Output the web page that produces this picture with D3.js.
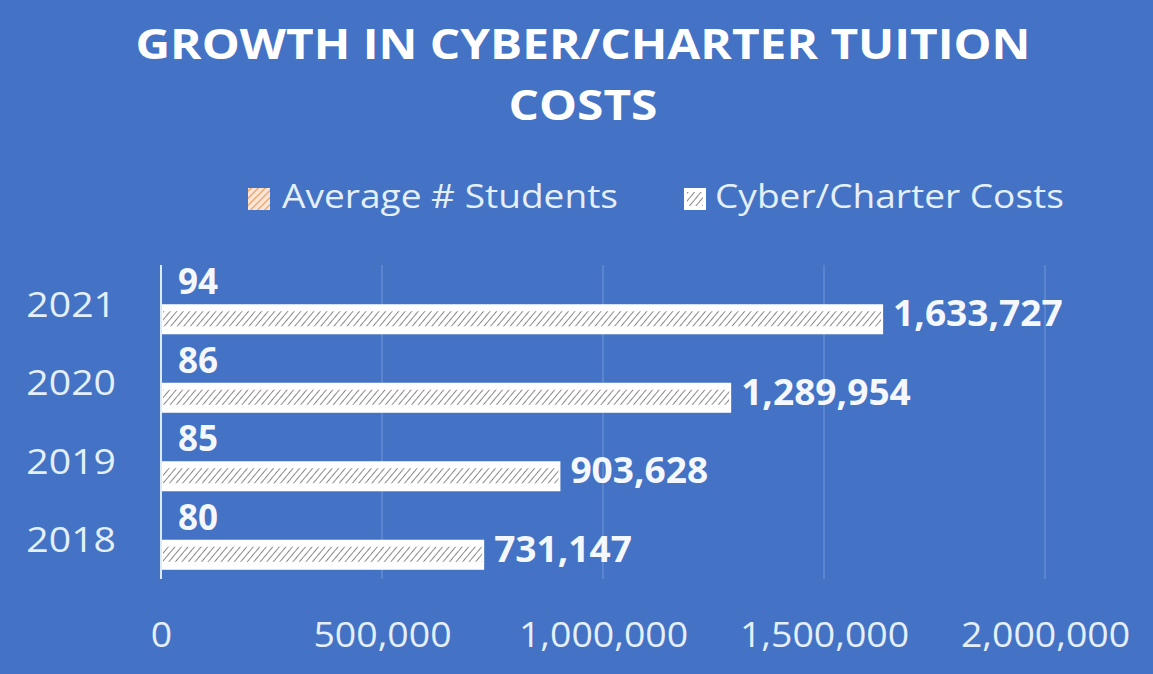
<!DOCTYPE html>
<html><head><meta charset="utf-8">
<script src="https://cdn.jsdelivr.net/npm/d3@7"></script>
<style>
html,body{margin:0;padding:0;background:#4472C4;}
svg{display:block;}
</style></head>
<body><svg id="c" width="1153" height="674"></svg>
<script>
const years = ["2021","2020","2019","2018"];
const students = [94, 86, 85, 80];
const costs = [1633727, 1289954, 903628, 731147];
const xTicks = [0, 500000, 1000000, 1500000, 2000000];
const seriesNames = ["Average # Students", "Cyber/Charter Costs"];
const titleLines = ["GROWTH IN CYBER/CHARTER TUITION", "COSTS"];

const FONT = "'Open Sans',Lato,sans-serif";
const svg = d3.select("#c");
const defs = svg.append("defs");
const pat = defs.append("pattern").attr("id","hatch").attr("patternUnits","userSpaceOnUse")
  .attr("width",5).attr("height",5).attr("patternTransform","rotate(40)");
pat.append("rect").attr("width",5).attr("height",5).attr("fill","#ffffff");
pat.append("line").attr("x1",0).attr("y1",0).attr("x2",0).attr("y2",5).attr("stroke","#6b6b6b").attr("stroke-width",1.6);
const pat2 = defs.append("pattern").attr("id","hatchO").attr("patternUnits","userSpaceOnUse")
  .attr("width",5).attr("height",5).attr("patternTransform","rotate(45)");
pat2.append("rect").attr("width",5).attr("height",5).attr("fill","#fbe5d6");
pat2.append("line").attr("x1",0).attr("y1",0).attr("x2",0).attr("y2",5).attr("stroke","#e39a5e").attr("stroke-width",2.4);

const x = d3.scaleLinear().domain([0,2000000]).range([161, 1045]);
const y = d3.scaleBand().domain(years).range([265, 579]).paddingInner(0.235).paddingOuter(0.1175);
const sub = d3.scaleBand().domain(seriesNames).range([0, y.bandwidth()]);

// horizontal stretch helper (reference text is wider than available fonts)
function stretch(sel, k) {
  sel.each(function(){
    const w = this.getComputedTextLength();
    d3.select(this).attr("textLength", w*k).attr("lengthAdjust","spacingAndGlyphs");
  });
}

// title
const tt = svg.append("g").selectAll("text").data(titleLines).join("text")
  .attr("x", 583).attr("y",(d,i)=>59+i*61).attr("text-anchor","middle")
  .attr("fill","#ffffff").attr("font-weight","bold").attr("font-size",42).attr("font-family",FONT)
  .text(d=>d);
const tw = tt.nodes()[0].getComputedTextLength();
stretch(tt, 895/tw);

// legend
const lg = svg.append("g");
lg.append("rect").attr("x",248).attr("y",188).attr("width",22).attr("height",22).attr("fill","url(#hatchO)");
const l1 = lg.append("text").attr("x",282).attr("y",208).attr("fill","#e3eff9").attr("font-size",32).attr("font-family",FONT).text(seriesNames[0]);
lg.append("rect").attr("x",684).attr("y",188).attr("width",22).attr("height",22).attr("fill","#ffffff");
lg.append("rect").attr("x",687).attr("y",192).attr("width",16).attr("height",14).attr("fill","url(#hatch)");
const l2 = lg.append("text").attr("x",715).attr("y",208).attr("fill","#e3eff9").attr("font-size",32).attr("font-family",FONT).text(seriesNames[1]);
const lw = l1.node().getComputedTextLength();
stretch(l1, 336/lw); stretch(l2, 336/lw);

// gridlines
svg.append("g").selectAll("line").data(xTicks.slice(1)).join("line")
  .attr("x1",d=>x(d)).attr("x2",d=>x(d)).attr("y1",265).attr("y2",579)
  .attr("stroke","#6d93d8").attr("stroke-width",1.2);

// x axis labels
const xa = svg.append("g").attr("transform","translate(0,647)")
  .call(d3.axisBottom(x).tickValues(xTicks).tickFormat(d3.format(",")).tickSize(0).tickPadding(0));
xa.select(".domain").remove();
xa.selectAll("text").attr("fill","#e3eff9").attr("font-size",35).attr("font-family",FONT).attr("dy","0").attr("y",0);
stretch(xa.selectAll("text"), 1.07);

// y axis labels
const ya = svg.append("g").attr("transform","translate(116,0)")
  .call(d3.axisLeft(y).tickSize(0).tickPadding(0));
ya.select(".domain").remove();
ya.selectAll("text").attr("fill","#e3eff9").attr("font-size",35).attr("font-family",FONT).attr("dy","0.36em");
stretch(ya.selectAll("text"), 1.12);

// bars: costs
const g = svg.append("g");
const cy = d => y(d) + sub(seriesNames[1]);
g.selectAll("rect.cost").data(years).join("rect").attr("class","cost")
  .attr("x",x(0)).attr("y",d=>cy(d)).attr("width",(d,i)=>x(costs[i])-x(0)).attr("height",sub.bandwidth())
  .attr("fill","#ffffff");
g.selectAll("rect.costh").data(years).join("rect").attr("class","costh")
  .attr("x",x(0)+2).attr("y",d=>cy(d)+7).attr("width",(d,i)=>x(costs[i])-x(0)-4).attr("height",sub.bandwidth()-15)
  .attr("fill","url(#hatch)");
// student bars (near zero width on this scale)
g.selectAll("rect.stu").data(years).join("rect").attr("class","stu")
  .attr("x",x(0)).attr("y",d=>y(d)+sub(seriesNames[0])).attr("width",(d,i)=>x(students[i])-x(0)).attr("height",sub.bandwidth())
  .attr("fill","url(#hatchO)");

// axis line
svg.append("line").attr("x1",x(0)).attr("x2",x(0)).attr("y1",265).attr("y2",579)
  .attr("stroke","#dcebf7").attr("stroke-width",2);

// labels
const cl = g.selectAll("text.cl").data(years).join("text").attr("class","cl")
  .attr("x",(d,i)=>x(costs[i])+10).attr("y",d=>cy(d)+sub.bandwidth()/2+7)
  .attr("fill","#f4f8fc").attr("font-weight","bold").attr("font-size",35).attr("font-family",FONT)
  .text((d,i)=>d3.format(",")(costs[i]));
stretch(cl, 1.06);
const sl = g.selectAll("text.sl").data(years).join("text").attr("class","sl")
  .attr("x",(d,i)=>x(students[i])+17).attr("y",d=>y(d)+sub(seriesNames[0])+sub.bandwidth()/2+5)
  .attr("fill","#f4f8fc").attr("font-weight","bold").attr("font-size",35).attr("font-family",FONT)
  .text((d,i)=>students[i]);
</script></body></html>
